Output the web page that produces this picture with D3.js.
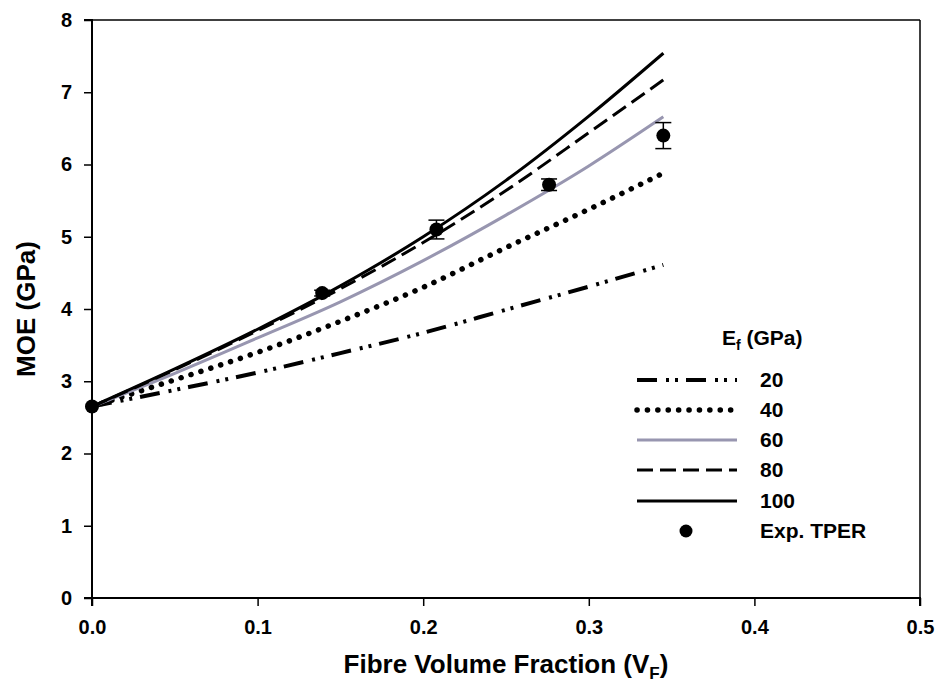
<!DOCTYPE html>
<html>
<head>
<meta charset="utf-8">
<script src="https://cdn.jsdelivr.net/npm/d3@7"></script>
<style>
  body { margin: 0; background: #fff; }
  svg { display: block; font-family: "Liberation Sans", Arial, sans-serif; font-weight: bold; }
</style>
</head>
<body>
<svg id="chart" width="938" height="686"></svg>
<script>
// ---- data ----
const vf = [0, 0.05, 0.1, 0.15, 0.2, 0.25, 0.3, 0.345];
const moe20  = [2.65, 2.88, 3.12, 3.39, 3.67, 3.99, 4.31, 4.61];
const moe40  = [2.65, 3.02, 3.40, 3.83, 4.30, 4.85, 5.38, 5.88];
const moe60  = [2.65, 3.11, 3.60, 4.10, 4.67, 5.30, 5.98, 6.66];
const moe80  = [2.65, 3.16, 3.70, 4.28, 4.92, 5.64, 6.44, 7.17];
const moe100 = [2.65, 3.17, 3.72, 4.32, 5.00, 5.78, 6.67, 7.54];
const seriesNames = ["20", "40", "60", "80", "100"];
const expVf  = [0, 0.139, 0.208, 0.276, 0.345];
const expMoe = [2.65, 4.22, 5.10, 5.72, 6.40];
const expErr = [0, 0.04, 0.13, 0.08, 0.18];
const xTicks = [0, 0.1, 0.2, 0.3, 0.4, 0.5];
const yTicks = [0, 1, 2, 3, 4, 5, 6, 7, 8];

// ---- layout ----
const svg = d3.select("#chart");
const L = 92, R = 920, T = 20, B = 598;
const x = d3.scaleLinear().domain([0, 0.5]).range([L, R]);
const y = d3.scaleLinear().domain([0, 8]).range([B, T]);

const styles = {
  "20":  { stroke: "#000", width: 4, dash: "20 9 3 6 3 8", cap: "butt" },
  "40":  { stroke: "#000", width: 5.5, dash: "0.1 10.3", cap: "round" },
  "60":  { stroke: "#9896b0", width: 3, dash: null, cap: "butt" },
  "80":  { stroke: "#000", width: 3, dash: "16 7", cap: "butt" },
  "100": { stroke: "#000", width: 3, dash: null, cap: "butt" }
};
const allSeries = [moe20, moe40, moe60, moe80, moe100];

// frame (top & right)
svg.append("line").attr("x1", L).attr("x2", R).attr("y1", T).attr("y2", T)
  .attr("stroke", "#000").attr("stroke-width", 1.5);
svg.append("line").attr("x1", R).attr("x2", R).attr("y1", T).attr("y2", B)
  .attr("stroke", "#000").attr("stroke-width", 1.5);

// axes
const yAxis = svg.append("g").attr("transform", `translate(${L},0)`)
  .call(d3.axisLeft(y).tickValues(yTicks).tickFormat(d3.format("d")).tickSize(8).tickPadding(12));
const xAxis = svg.append("g").attr("transform", `translate(0,${B})`)
  .call(d3.axisBottom(x).tickValues(xTicks).tickFormat(d3.format(".1f")).tickSize(8).tickPadding(14));
[yAxis, xAxis].forEach(g => {
  g.select(".domain").attr("stroke-width", 2).attr("stroke", "#000");
  g.selectAll(".tick line").attr("stroke-width", 1.5).attr("stroke", "#000");
  g.selectAll(".tick text").attr("font-size", 20).attr("font-weight", "bold")
    .attr("font-family", "Liberation Sans, Arial, sans-serif").attr("fill", "#000");
});
xAxis.select(".domain").attr("d", `M${L},8V0H${R}V8`);
yAxis.select(".domain").attr("d", `M-8,${T}H0V${B}H-8`);

// axis titles
const xl = svg.append("text").attr("x", (L + R) / 2).attr("y", 673)
  .attr("text-anchor", "middle").attr("font-size", 26).attr("fill", "#000");
xl.append("tspan").text("Fibre Volume Fraction (V");
xl.append("tspan").text("F").attr("font-size", 17).attr("dy", 6);
xl.append("tspan").text(")").attr("dy", -6);

svg.append("text").attr("transform", `translate(35,${(T + B) / 2}) rotate(-90)`)
  .attr("text-anchor", "middle").attr("font-size", 26).attr("fill", "#000")
  .text("MOE (GPa)");

// curves
const line = d3.line().x((d, i) => x(vf[i])).y(d => y(d)).curve(d3.curveMonotoneX);
allSeries.forEach((s, k) => {
  const st = styles[seriesNames[k]];
  svg.append("path").datum(s).attr("d", line)
    .attr("fill", "none").attr("stroke", st.stroke).attr("stroke-width", st.width)
    .attr("stroke-dasharray", st.dash).attr("stroke-linecap", st.cap);
});

// experimental points with error bars
const pts = svg.append("g");
expVf.forEach((v, i) => {
  if (expErr[i] > 0) {
    const g = pts.append("g").attr("stroke", "#000").attr("stroke-width", 1.5);
    g.append("line").attr("x1", x(v)).attr("x2", x(v)).attr("y1", y(expMoe[i] - expErr[i])).attr("y2", y(expMoe[i] + expErr[i]));
    [expMoe[i] - expErr[i], expMoe[i] + expErr[i]].forEach(e =>
      g.append("line").attr("x1", x(v) - 8).attr("x2", x(v) + 8).attr("y1", y(e)).attr("y2", y(e)));
  }
  pts.append("circle").attr("cx", x(v)).attr("cy", y(expMoe[i])).attr("r", 7).attr("fill", "#000");
});

// legend
const lg = svg.append("g");
const lt = lg.append("text").attr("x", 722).attr("y", 345).attr("font-size", 21).attr("fill", "#000");
lt.append("tspan").text("E");
lt.append("tspan").text("f").attr("font-size", 14).attr("dy", 5);
lt.append("tspan").text(" (GPa)").attr("dy", -5);
const rowY = [380, 410, 440, 470, 501, 531];
seriesNames.forEach((n, k) => {
  const st = styles[n];
  lg.append("line").attr("x1", 637).attr("x2", 737).attr("y1", rowY[k]).attr("y2", rowY[k])
    .attr("stroke", st.stroke).attr("stroke-width", st.width)
    .attr("stroke-dasharray", st.dash).attr("stroke-linecap", st.cap);
  lg.append("text").attr("x", 760).attr("y", rowY[k] + 7).attr("font-size", 21).attr("fill", "#000").text(n);
});
lg.append("circle").attr("cx", 686).attr("cy", rowY[5]).attr("r", 6.5).attr("fill", "#000");
lg.append("text").attr("x", 760).attr("y", rowY[5] + 7).attr("font-size", 21).attr("fill", "#000").text("Exp. TPER");
</script>
</body>
</html>
